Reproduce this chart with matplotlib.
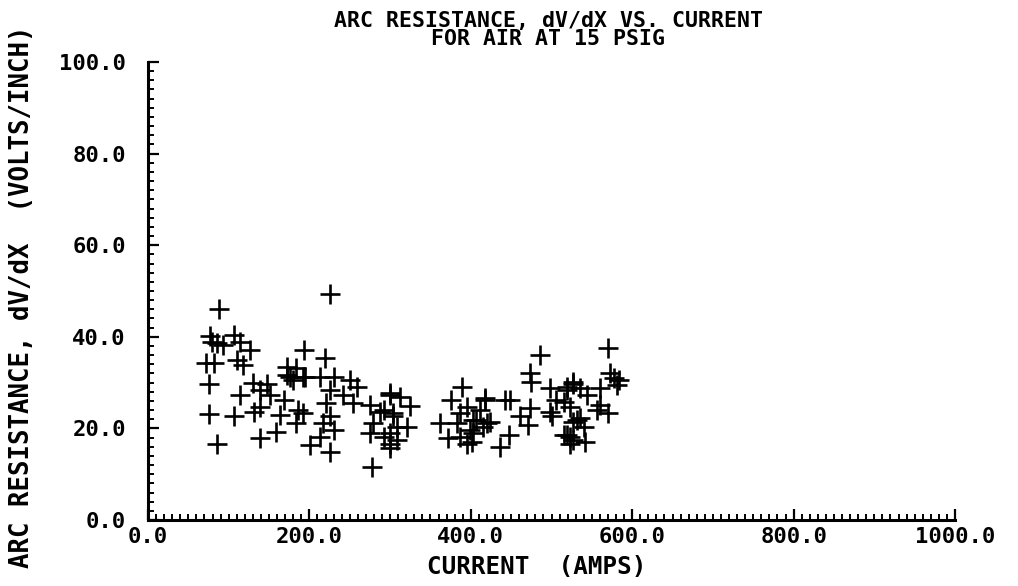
import matplotlib
matplotlib.use("Agg")
import matplotlib.pyplot as plt
from matplotlib.ticker import MultipleLocator, FormatStrFormatter

# ---- data ----
current = [88, 77, 79, 85, 93, 106, 114, 126, 110, 118, 72, 82, 75, 75, 85, 106,
           114, 130, 139, 147, 131, 139, 139, 159, 151, 164, 168, 172, 172, 180,
           225, 193, 219, 184, 192, 230, 250, 259, 226, 242, 186, 192, 221, 226,
           217, 230, 213, 201, 226, 184, 254, 275, 300, 287, 279, 275, 300, 277,
           304, 308, 176, 195, 213,
           300, 312, 325, 292, 304, 321, 300, 292, 308, 300,
           389, 376, 395, 387, 362, 383, 407, 418, 411, 372, 387, 395, 399, 420,
           418, 442, 449, 403, 424, 415, 403, 401, 447, 436,
           486, 473, 475, 473, 461, 471, 498, 506, 498, 500, 519, 527, 523, 531,
           519, 523,
           570, 572, 577, 584, 581, 560, 527, 535, 519, 544, 515, 560, 570, 556,
           535, 527, 540, 515, 527, 542, 523]
resistance = [46.0, 40.2, 38.9, 38.6, 38.2, 40.4, 38.9, 37.1, 34.9, 33.8, 34.2,
              34.2, 29.7, 23.1, 16.6, 22.6, 27.3, 29.9, 28.4, 29.8, 23.6, 24.7,
              17.9, 19.3, 27.3, 22.9, 26.2, 33.5, 31.7, 30.6,
              49.3, 37.1, 35.3, 33.1, 31.3, 31.3, 30.6, 29.1, 28.4, 27.3, 24.0,
              23.3, 25.5, 22.6, 21.1, 19.7, 18.2, 16.4, 14.9, 21.1, 25.5, 25.1,
              27.3, 23.6, 21.1, 18.9, 16.7, 11.6, 22.6, 20.4, 31.2, 31.2, 31.2,
              27.7, 26.9, 24.9, 24.0, 23.3, 20.4, 18.9, 18.2, 17.5, 15.8,
              29.1, 26.2, 24.7, 23.3, 21.2, 21.1, 21.8, 26.2, 24.0, 17.8, 18.2,
              16.7, 19.7, 21.1,
              26.6, 26.2, 26.2, 21.8, 21.5, 20.4, 18.9, 17.1, 18.6, 16.0,
              36.0, 32.0, 30.2, 24.4, 22.6, 20.7, 28.8, 26.2, 23.6, 22.6, 29.1,
              29.8, 24.7, 21.8, 18.6, 16.7,
              37.5, 32.0, 30.9, 30.6, 29.5, 28.8, 30.2, 28.8, 28.4, 27.3, 25.8,
              25.1, 23.3, 24.0, 22.2, 21.5, 20.4, 18.6, 17.5, 17.1, 18.2]

title_lines = ["ARC RESISTANCE, dV/dX VS. CURRENT", "FOR AIR AT 15 PSIG"]
xlabel = "CURRENT  (AMPS)"
ylabel = "ARC RESISTANCE, dV/dX  (VOLTS/INCH)"

FONT = "DejaVu Sans Mono"

fig = plt.figure(figsize=(10.18, 5.86), dpi=100)
ax = fig.add_axes([148 / 1018, 1 - 520 / 586, (955 - 148) / 1018, (520 - 62) / 586])

ax.plot(current, resistance, linestyle="none", marker="+", markersize=14,
        markeredgewidth=1.9, color="black")

ax.set_xlim(0, 1000)
ax.set_ylim(0, 100)

for s in ("top", "right"):
    ax.spines[s].set_visible(False)
for s in ("left", "bottom"):
    ax.spines[s].set_linewidth(2.2)
    ax.spines[s].set_color("black")

ax.xaxis.set_major_locator(MultipleLocator(200))
ax.xaxis.set_minor_locator(MultipleLocator(10))
ax.yaxis.set_major_locator(MultipleLocator(20))
ax.yaxis.set_minor_locator(MultipleLocator(2))
ax.xaxis.set_major_formatter(FormatStrFormatter("%.1f"))
ax.yaxis.set_major_formatter(FormatStrFormatter("%.1f"))

ax.tick_params(axis="both", which="major", direction="in", length=8, width=1.6,
               labelsize=16)
ax.tick_params(axis="both", which="minor", direction="in", length=4, width=1.4)
ax.tick_params(axis="y", which="major", pad=16)
ax.tick_params(axis="x", which="major", pad=5)
for lab in ax.get_xticklabels() + ax.get_yticklabels():
    lab.set_fontfamily(FONT)
    lab.set_fontweight("bold")

fig.text(548 / 1018, 1 - 30 / 586, "\n".join(title_lines), ha="center",
         va="center", multialignment="center", linespacing=0.9,
         fontsize=15.5, family=FONT, fontweight="bold")
fig.text(537 / 1018, 1 - 567 / 586, xlabel, ha="center", va="center",
         fontsize=17.5, family=FONT, fontweight="bold")
fig.text(22 / 1018, 1 - 297 / 586, ylabel, ha="center", va="center",
         rotation=90, fontsize=18.5, family=FONT, fontweight="bold")

fig.savefig("out.png", dpi=100)
